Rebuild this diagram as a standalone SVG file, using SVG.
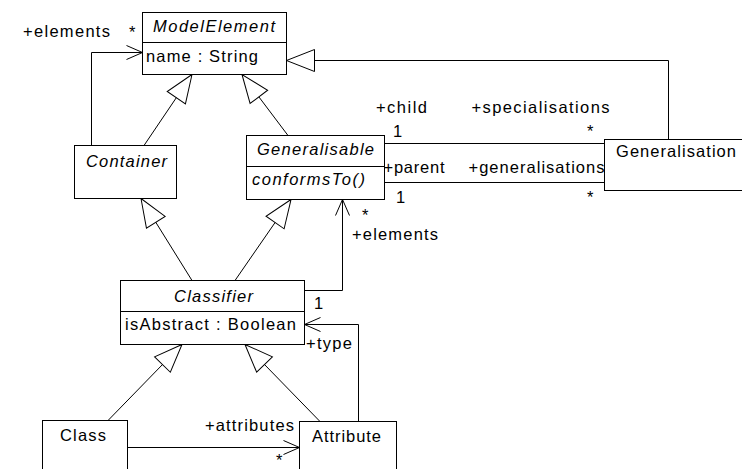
<svg xmlns="http://www.w3.org/2000/svg" width="742" height="469" viewBox="0 0 742 469">
<style>
.box{fill:#fff;stroke:#000;stroke-width:1}
.ln{fill:none;stroke:#000;stroke-width:1}
.t{font-family:"Liberation Sans",Arial,sans-serif;font-size:16.5px;fill:#000}
.i{font-style:italic}
</style>
<defs>
<marker id="tri" viewBox="-30 -13 32 26" refX="0" refY="0" markerWidth="32" markerHeight="26" markerUnits="userSpaceOnUse" orient="auto">
<path d="M0,0 L-28,-11 L-28,11 Z" fill="#fff" stroke="#000" stroke-width="1"/>
</marker>
<marker id="open" viewBox="-18 -9 20 18" refX="0" refY="0" markerWidth="20" markerHeight="18" markerUnits="userSpaceOnUse" orient="auto">
<path d="M-16,-7 L0,0 L-16,7" fill="none" stroke="#000" stroke-width="1"/>
</marker>
</defs>
<rect width="742" height="469" fill="#fff"/>

<g id="connectors">
<polyline class="ln" points="144,145.5 192,74.5" marker-end="url(#tri)"/>
<polyline class="ln" points="288,135.5 242,74.5" marker-end="url(#tri)"/>
<polyline class="ln" points="192,280.5 141,198.5" marker-end="url(#tri)"/>
<polyline class="ln" points="235,280.5 291,199.5" marker-end="url(#tri)"/>
<polyline class="ln" points="108,420.5 182,344.5" marker-end="url(#tri)"/>
<polyline class="ln" points="320,421.5 245,344.5" marker-end="url(#tri)"/>
<polyline class="ln" points="668.5,139.5 668.5,60.5 286.5,60.5" marker-end="url(#tri)"/>
<polyline class="ln" points="91.5,145.5 91.5,52.5 142.5,52.5" marker-end="url(#open)"/>
<line class="ln" x1="384.5" y1="143.5" x2="604.5" y2="143.5"/>
<line class="ln" x1="384.5" y1="182.5" x2="604.5" y2="182.5"/>
<polyline class="ln" points="304.5,290.5 342.5,290.5 342.5,199.5" marker-end="url(#open)"/>
<polyline class="ln" points="358.5,421.5 358.5,324.5 304.5,324.5" marker-end="url(#open)"/>
<polyline class="ln" points="127.5,447.5 299.5,447.5" marker-end="url(#open)"/>
<text class="t" x="23" y="37" textLength="87">+elements</text>
<text class="t" x="129" y="38">*</text>
<text class="t" x="376" y="113" textLength="51">+child</text>
<text class="t" x="471.5" y="113" textLength="138">+specialisations</text>
<text class="t" x="393" y="137">1</text>
<text class="t" x="587" y="137">*</text>
<text class="t" x="383.5" y="173" textLength="61">+parent</text>
<text class="t" x="468.5" y="173" textLength="136">+generalisations</text>
<text class="t" x="396" y="203">1</text>
<text class="t" x="587" y="203">*</text>
<text class="t" x="362" y="221">*</text>
<text class="t" x="352" y="240" textLength="86">+elements</text>
<text class="t" x="314" y="309">1</text>
<text class="t" x="306" y="349" textLength="46">+type</text>
<text class="t" x="205" y="431" textLength="89">+attributes</text>
<text class="t" x="276" y="466">*</text>
</g>

<g id="ModelElement">
<rect class="box" x="142.5" y="12.5" width="144" height="62"/>
<line class="ln" x1="142.5" y1="42.5" x2="286.5" y2="42.5"/>
<text class="t i" x="153" y="32" textLength="122">ModelElement</text>
<text class="t" x="146" y="62" textLength="112">name : String</text>
</g>

<g id="Container">
<rect class="box" x="74.5" y="145.5" width="102" height="53"/>
<text class="t i" x="86" y="167" textLength="81">Container</text>
</g>

<g id="Generalisable">
<rect class="box" x="246.5" y="135.5" width="138" height="64"/>
<line class="ln" x1="246.5" y1="166.5" x2="384.5" y2="166.5"/>
<text class="t i" x="257" y="155" textLength="117">Generalisable</text>
<text class="t i" x="252" y="185" textLength="113">conformsTo()</text>
</g>

<g id="Generalisation">
<rect class="box" x="604.5" y="139.5" width="150" height="51"/>
<text class="t" x="616" y="157" textLength="120">Generalisation</text>
</g>

<g id="Classifier">
<rect class="box" x="120.5" y="280.5" width="184" height="64"/>
<line class="ln" x1="120.5" y1="311.5" x2="304.5" y2="311.5"/>
<text class="t i" x="174" y="302" textLength="79">Classifier</text>
<text class="t" x="125" y="330" textLength="171">isAbstract : Boolean</text>
</g>

<g id="Class">
<rect class="box" x="42.5" y="420.5" width="85" height="60"/>
<text class="t" x="60" y="441" textLength="46">Class</text>
</g>

<g id="Attribute">
<rect class="box" x="299.5" y="421.5" width="97" height="60"/>
<text class="t" x="312" y="442" textLength="69">Attribute</text>
</g>
</svg>
